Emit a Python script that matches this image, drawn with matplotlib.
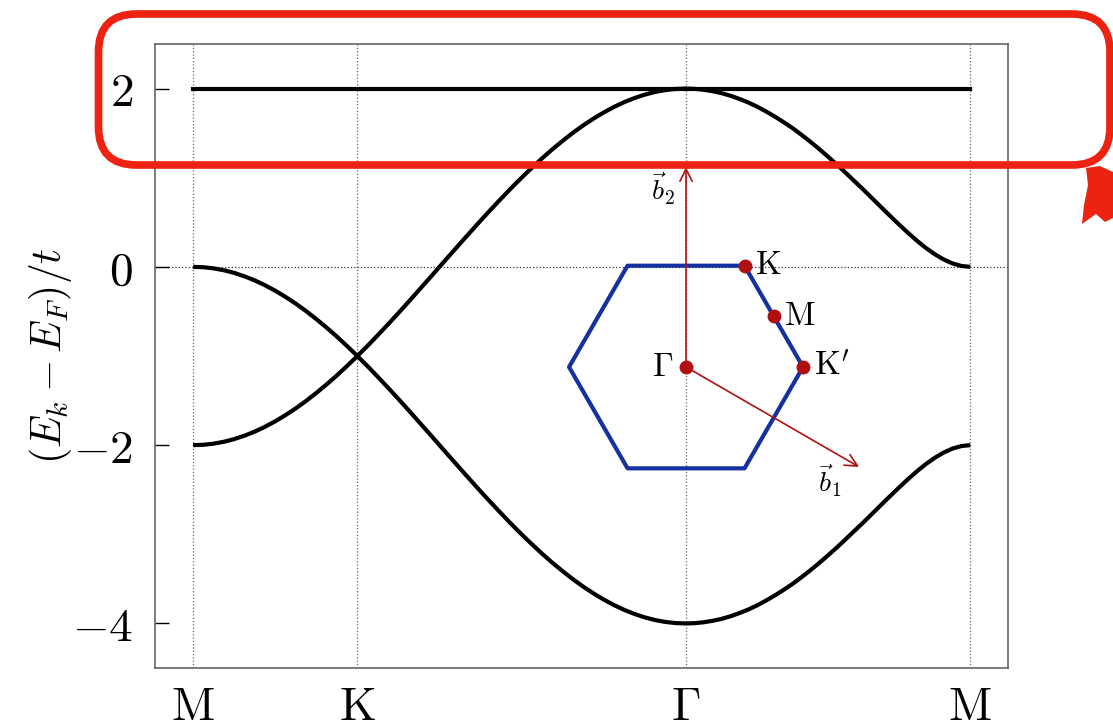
import numpy as np
import matplotlib
matplotlib.use("Agg")
import matplotlib.pyplot as plt
from matplotlib.patches import FancyBboxPatch, Polygon

plt.rcParams["mathtext.fontset"] = "cm"
plt.rcParams["font.family"] = "serif"
plt.rcParams["font.serif"] = ["DejaVu Serif"]

# path positions of the high-symmetry points (units of |MK|)
kpath_pos = [0.0, 1.0, 3.0, 4.732]
kpath_labels = [r"$\mathrm{M}$", r"$\mathrm{K}$", r"$\Gamma$", r"$\mathrm{M}$"]

# M -> K
k_mk = [0.0, 0.0625, 0.125, 0.1875, 0.25, 0.3125, 0.375, 0.4375, 0.5,
        0.5625, 0.625, 0.6875, 0.75, 0.8125, 0.875, 0.9375, 1.0]
up_mk = [0.0, -0.004, -0.017, -0.038, -0.068, -0.106, -0.152, -0.206, -0.268,
         -0.337, -0.413, -0.496, -0.586, -0.681, -0.782, -0.889, -1.0]
lo_mk = [-2.0, -1.996, -1.983, -1.962, -1.932, -1.894, -1.848, -1.794, -1.732,
         -1.663, -1.587, -1.504, -1.414, -1.319, -1.218, -1.111, -1.0]

# K -> Gamma
k_kg = [1.0, 1.0625, 1.125, 1.1875, 1.25, 1.3125, 1.375, 1.4375, 1.5,
        1.5625, 1.625, 1.6875, 1.75, 1.8125, 1.875, 1.9375, 2.0,
        2.0625, 2.125, 2.1875, 2.25, 2.3125, 2.375, 2.4375, 2.5,
        2.5625, 2.625, 2.6875, 2.75, 2.8125, 2.875, 2.9375, 3.0]
up_kg = [-1.0, -0.885, -0.765, -0.643, -0.518, -0.390, -0.261, -0.131, 0.0,
         0.131, 0.261, 0.390, 0.518, 0.643, 0.765, 0.885, 1.0,
         1.111, 1.218, 1.319, 1.414, 1.504, 1.587, 1.663, 1.732,
         1.794, 1.848, 1.894, 1.932, 1.962, 1.983, 1.996, 2.0]
lo_kg = [-1.0, -1.115, -1.235, -1.357, -1.482, -1.610, -1.739, -1.869, -2.0,
         -2.131, -2.261, -2.390, -2.518, -2.643, -2.765, -2.885, -3.0,
         -3.111, -3.218, -3.319, -3.414, -3.504, -3.587, -3.663, -3.732,
         -3.794, -3.848, -3.894, -3.932, -3.962, -3.983, -3.996, -4.0]

# Gamma -> M
k_gm = [3.0, 3.054, 3.108, 3.162, 3.217, 3.271, 3.325, 3.379, 3.433,
        3.487, 3.541, 3.595, 3.65, 3.704, 3.758, 3.812, 3.866,
        3.92, 3.974, 4.028, 4.083, 4.137, 4.191, 4.245, 4.299,
        4.353, 4.407, 4.461, 4.516, 4.57, 4.624, 4.678, 4.732]
up_gm = [2.0, 1.997, 1.987, 1.971, 1.949, 1.920, 1.885, 1.845, 1.798,
         1.745, 1.687, 1.624, 1.556, 1.482, 1.404, 1.322, 1.236,
         1.147, 1.054, 0.959, 0.863, 0.765, 0.667, 0.569, 0.474,
         0.381, 0.294, 0.213, 0.142, 0.083, 0.038, 0.010, 0.0]
lo_gm = [-4.0, -3.997, -3.987, -3.971, -3.949, -3.920, -3.885, -3.845, -3.798,
         -3.745, -3.687, -3.624, -3.556, -3.482, -3.404, -3.322, -3.236,
         -3.147, -3.054, -2.959, -2.863, -2.765, -2.667, -2.569, -2.474,
         -2.381, -2.294, -2.213, -2.142, -2.083, -2.038, -2.010, -2.0]

flat_band = 2.0
yticks = [-4, -2, 0, 2]

# Brillouin zone (units of |Gamma K|)
bz_hex = [(1.0, 0.0), (0.5, 0.866), (-0.5, 0.866), (-1.0, 0.0),
          (-0.5, -0.866), (0.5, -0.866), (1.0, 0.0)]
bz_points = {"Gamma": (0.0, 0.0), "K": (0.5, 0.866), "M": (0.75, 0.433), "Kp": (1.0, 0.0)}
b1 = (1.5, -0.866)
b2 = (0.0, 1.732)

fig = plt.figure(figsize=(11.13, 7.25), dpi=100)
ax = fig.add_axes([0.1393, 0.0786, 0.7664, 0.8607])

k_all = k_mk + k_kg[1:] + k_gm[1:]
up_all = up_mk + up_kg[1:] + up_gm[1:]
lo_all = lo_mk + lo_kg[1:] + lo_gm[1:]
ax.plot(k_all, up_all, color="black", lw=3, solid_capstyle="butt")
ax.plot(k_all, lo_all, color="black", lw=3, solid_capstyle="butt")
ax.plot([kpath_pos[0], kpath_pos[-1]], [flat_band, flat_band], color="black", lw=3)

for x in kpath_pos:
    ax.axvline(x, color="0.4", lw=0.9, ls=":", zorder=0)
ax.axhline(0, color="0.2", lw=0.9, ls=":", zorder=0)

ax.set_xlim(-0.232, 4.962)
ax.set_ylim(-4.5, 2.5)
ax.set_xticks(kpath_pos)
ax.set_xticklabels(kpath_labels, fontsize=34)
ax.set_yticks(yticks)
ax.set_yticklabels([r"$%d$" % v for v in yticks], fontsize=34)
ax.tick_params(axis="x", length=0, pad=12)
ax.tick_params(axis="y", direction="in", length=10, width=1, pad=16)
for s in ax.spines.values():
    s.set_color("0.35")
    s.set_linewidth(1.1)
ax.set_ylabel(r"$(E_k - E_F)/t$", fontsize=30)
ax.yaxis.set_label_coords(-0.095, 0.5)

# Brillouin zone inset
ins = fig.add_axes([0.4852, 0.3103, 0.3145, 0.4828])
ins.set_xlim(-1.248, 1.744)
ins.set_ylim(-1.137, 1.855)
ins.set_aspect("equal")
ins.axis("off")
ins.patch.set_alpha(0)
hx, hy = zip(*bz_hex)
ins.plot(hx, hy, color="#1530a0", lw=3)
red = "#b01010"
ins.annotate("", xy=b1, xytext=(0, 0),
             arrowprops=dict(arrowstyle="->", color=red, lw=1.2, mutation_scale=22))
ins.annotate("", xy=b2, xytext=(0, 0),
             arrowprops=dict(arrowstyle="->", color=red, lw=1.2, mutation_scale=22))
for name, (px, py) in bz_points.items():
    ins.plot(px, py, "o", color=red, ms=9, zorder=5)
ins.text(0.59, 0.87, r"$\mathrm{K}$", fontsize=24, va="center", ha="left")
ins.text(0.84, 0.44, r"$\mathrm{M}$", fontsize=24, va="center", ha="left")
ins.text(1.09, 0.0, r"$\mathrm{K}'$", fontsize=24, va="center", ha="left")
ins.text(-0.11, 0.0, r"$\Gamma$", fontsize=24, va="center", ha="right")
ins.text(-0.2, 1.52, r"$\vec{b}_2$", fontsize=20, va="center", ha="center")
ins.text(1.23, -0.97, r"$\vec{b}_1$", fontsize=20, va="center", ha="center")

# red highlight around the flat band
box = FancyBboxPatch((0.985, 5.60), 10.115, 1.51,
                     boxstyle="round,pad=0,rounding_size=0.38",
                     transform=fig.dpi_scale_trans, fill=False,
                     edgecolor="#ee2211", lw=5.5, zorder=10)
fig.patches.append(box)
tail = Polygon([(10.86, 5.57), (11.00, 5.59), (11.13, 5.53), (11.13, 5.07),
                (11.05, 5.03), (10.96, 5.11), (10.82, 5.01), (10.84, 5.20),
                (10.88, 5.40)], closed=True, transform=fig.dpi_scale_trans,
               facecolor="#ee2211", edgecolor="none", zorder=10)
fig.patches.append(tail)

fig.savefig("out.png", dpi=100)
